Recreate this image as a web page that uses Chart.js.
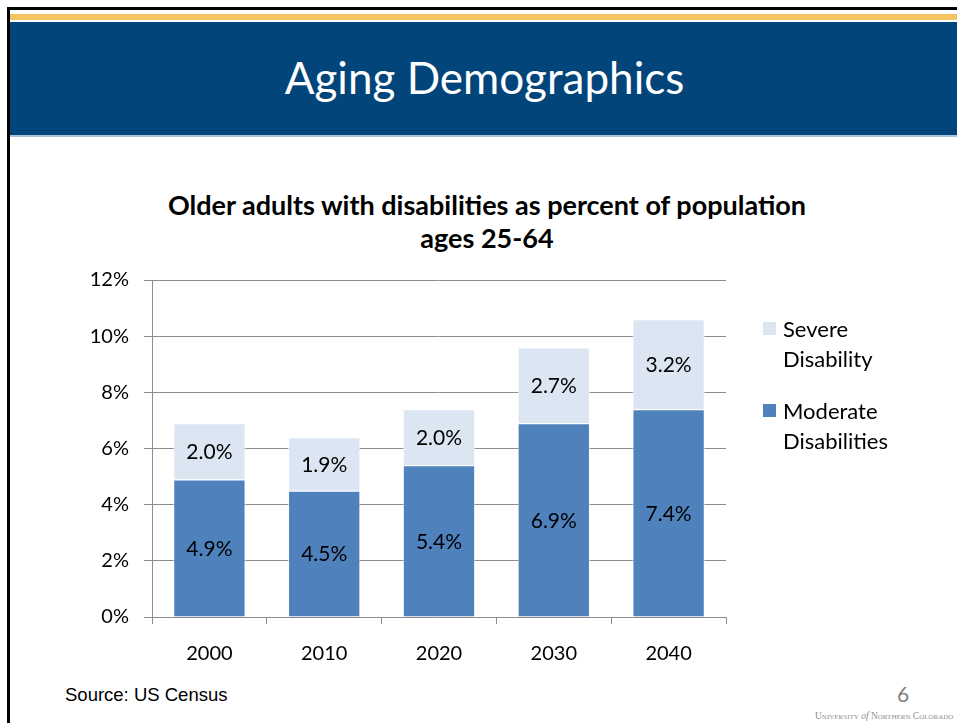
<!DOCTYPE html>
<html>
<head>
<meta charset="utf-8">
<script src="https://cdn.jsdelivr.net/npm/chart.js@4.4.1/dist/chart.umd.min.js"></script>
<style>
  html, body { margin: 0; padding: 0; background: #fff; }
  #slide { position: relative; width: 957px; height: 723px; overflow: hidden; background: #fff; }
  #frame { position: absolute; left: 7px; top: 7px; right: -10px; bottom: -10px; border-top: 3px solid #000; border-left: 3px solid #000; }
  #gold { position: absolute; left: 10px; right: 0; top: 14px; height: 6px; background: #f4c463; }
  #band { position: absolute; left: 10px; right: 0; top: 22px; height: 113px; background: #01457a; border-bottom: 2px solid #a9c3de; }
  #band h1 { margin: 0; font-family: Lato, sans-serif; font-weight: normal; color: #fff; font-size: 44px; text-align: center; line-height: 113px; position: relative; left: 1px; top: -1px; }
  #chartTitle { position: absolute; left: 0; width: 974px; top: 188px; text-align: center; font-family: Lato, sans-serif; font-weight: bold; font-size: 27px; line-height: 33px; color: #000; }
  #source { position: absolute; left: 65px; top: 684px; font-family: "Liberation Sans", Arial, sans-serif; font-size: 18.5px; color: #000; }
  #page { position: absolute; left: 897px; top: 681px; font-family: Lato, sans-serif; font-size: 21px; color: #7f7f7f; }
  #uni { position: absolute; left: 815px; top: 711px; font-family: "Liberation Serif", serif; font-variant: small-caps; font-size: 9.5px; letter-spacing: 0; color: #8f8f8f; white-space: nowrap; }
  #uni i { font-variant: normal; }
  #wrap { position: absolute; left: 0; top: 0; width: 957px; height: 723px; }
</style>
</head>
<body>
<div id="slide">
  <div id="frame"></div>
  <div id="gold"></div>
  <div id="band"><h1>Aging Demographics</h1></div>
  <div id="chartTitle">Older adults with disabilities as percent of population<br>ages 25-64</div>
  <div id="source">Source: US Census</div>
  <div id="page">6</div>
  <div id="uni">University <i>of</i> Northern Colorado</div>
  <div id="wrap"><canvas id="chart"></canvas></div>
</div>
<script>
// ------------------ DONNEES ------------------
const years = ['2000', '2010', '2020', '2030', '2040'];
const moderate = [4.9, 4.5, 5.4, 6.9, 7.4];
const severe = [2.0, 1.9, 2.0, 2.7, 3.2];
const yTicks = [0, 2, 4, 6, 8, 10, 12];
const legendSevere = ['Severe', 'Disability'];
const legendModerate = ['Moderate', 'Disabilities'];

const FONT = 'Lato, sans-serif';
const gridColor = '#8c8c8c';

// Etiquettes au centre de chaque segment
const segmentLabels = {
    id: 'segmentLabels',
    afterDatasetsDraw(chart) {
        const ctx = chart.ctx;
        ctx.save();
        ctx.font = '21px ' + FONT;
        ctx.fillStyle = '#000';
        ctx.textAlign = 'center';
        ctx.textBaseline = 'middle';
        chart.data.datasets.forEach((ds, i) => {
            chart.getDatasetMeta(i).data.forEach((bar, j) => {
                const y = (bar.y + bar.base) / 2 + 1;
                ctx.fillText(ds.data[j].toFixed(1) + '%', bar.x, y);
            });
        });
        ctx.restore();
    }
};

// Légende à droite, texte sur deux lignes
const sideLegend = {
    id: 'sideLegend',
    afterDraw(chart) {
        const ctx = chart.ctx;
        const a = chart.chartArea;
        const items = [
            { lines: legendSevere, color: chart.data.datasets[1].backgroundColor, top: a.top + 42 },
            { lines: legendModerate, color: chart.data.datasets[0].backgroundColor, top: a.top + 124 }
        ];
        ctx.save();
        ctx.font = '22px ' + FONT;
        ctx.textBaseline = 'middle';
        items.forEach(it => {
            ctx.fillStyle = it.color;
            ctx.fillRect(a.right + 37, it.top, 13, 13);
            ctx.fillStyle = '#000';
            it.lines.forEach((t, k) => {
                ctx.fillText(t, a.right + 57, it.top + 8 + k * 30);
            });
        });
        ctx.restore();
    }
};

new Chart(document.getElementById('chart'), {
    type: 'bar',
    data: {
        labels: years,
        datasets: [
            { label: 'Moderate Disabilities', data: moderate, backgroundColor: '#4f81bd', borderColor: 'rgba(255,255,255,0.7)', borderWidth: 1, barPercentage: 0.63, categoryPercentage: 1 },
            { label: 'Severe Disability', data: severe, backgroundColor: '#dce6f2', borderColor: 'rgba(255,255,255,0.7)', borderWidth: 1, barPercentage: 0.63, categoryPercentage: 1 }
        ]
    },
    options: {
        responsive: true,
        maintainAspectRatio: false,
        animation: false,
        layout: { padding: { top: 280, left: 0, right: 231, bottom: 46 } },
        plugins: {
            legend: { display: false },
            tooltip: { enabled: false },
            title: { display: false }
        },
        scales: {
            x: {
                stacked: true,
                grid: { display: true, drawOnChartArea: false, drawTicks: true, tickLength: 7, color: gridColor, offset: true },
                border: { display: true, color: gridColor },
                ticks: { color: '#000', font: { family: FONT, size: 20 }, padding: 18 },
                afterFit: s => { s.height = 60; }
            },
            y: {
                stacked: true,
                min: 0,
                max: 12,
                afterBuildTicks: s => { s.ticks = yTicks.map(v => ({ value: v })); },
                grid: { color: gridColor, tickLength: 8 },
                border: { display: true, color: gridColor },
                ticks: { color: '#000', font: { family: FONT, size: 20 }, padding: 15, callback: v => v + '%' },
                afterFit: s => { s.width = 152; }
            }
        }
    },
    plugins: [segmentLabels, sideLegend]
});
</script>
</body>
</html>
